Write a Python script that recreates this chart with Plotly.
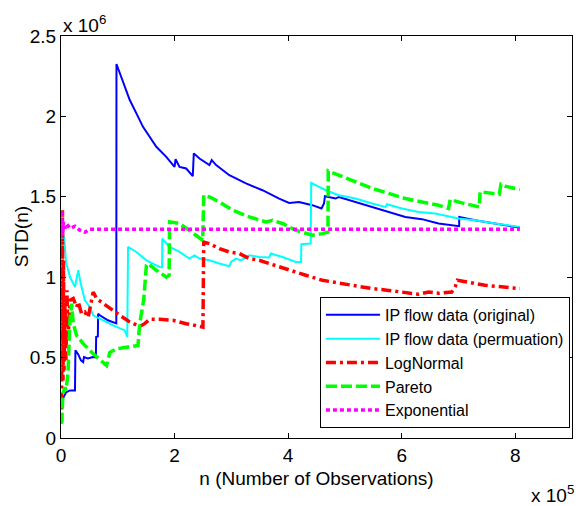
import plotly.graph_objects as go

# Running standard deviation STD(n) versus number of observations n.
# n in units of 1e5 observations, STD in units of 1e6.

orig_n = [0.0175, 0.088, 0.158, 0.246, 0.254, 0.304, 0.351, 0.391, 0.404, 0.474, 0.561, 0.614,
          0.619, 0.649, 0.654, 0.684, 0.825, 0.947, 0.974, 0.977, 1.035, 1.123, 1.211, 1.328,
          1.444, 1.561, 1.679, 1.854, 2.000, 2.018, 2.088, 2.205, 2.321, 2.339, 2.439, 2.614,
          2.654, 2.732, 2.965, 3.258, 3.549, 3.842, 4.018, 4.193, 4.426, 4.588, 4.632, 4.649,
          4.837, 4.895, 5.188, 5.479, 5.772, 6.065, 6.356, 6.649, 7.012, 7.014, 7.293, 7.644,
          8.082]
orig_std = [0.234, 0.283, 0.296, 0.296, 0.545, 0.520, 0.483, 0.472, 0.503, 0.495, 0.503, 0.501,
            0.628, 0.632, 0.773, 0.763, 0.732, 0.713, 0.713, 2.326, 2.268, 2.184, 2.102, 2.019,
            1.935, 1.873, 1.811, 1.748, 1.686, 1.734, 1.686, 1.676, 1.628, 1.770, 1.738, 1.697,
            1.728, 1.697, 1.634, 1.583, 1.541, 1.489, 1.462, 1.468, 1.448, 1.427, 1.458, 1.504,
            1.489, 1.499, 1.468, 1.437, 1.406, 1.375, 1.361, 1.334, 1.317, 1.375, 1.354, 1.334,
            1.308]

perm_n = [0.0175, 0.035, 0.061, 0.088, 0.111, 0.158, 0.246, 0.289, 0.304, 0.346, 0.421, 0.509,
          0.567, 0.742, 0.918, 1.123, 1.167, 1.181, 1.328, 1.504, 1.561, 1.737, 1.781, 1.784,
          1.912, 2.088, 2.263, 2.351, 2.439, 2.614, 2.789, 2.965, 2.995, 3.082, 3.170, 3.316,
          3.491, 3.667, 3.696, 3.900, 4.135, 4.228, 4.233, 4.398, 4.407, 4.544, 4.661, 4.895,
          5.188, 5.479, 5.714, 5.742, 6.005, 6.298, 6.591, 7.000, 7.293, 7.644, 8.082]
perm_std = [1.167, 1.280, 1.230, 1.093, 1.064, 1.001, 0.939, 1.037, 1.043, 0.962, 0.856, 0.814,
            0.763, 0.732, 0.700, 0.669, 0.628, 1.188, 1.157, 1.105, 1.095, 1.064, 1.062, 1.240,
            1.188, 1.157, 1.116, 1.136, 1.116, 1.105, 1.085, 1.068, 1.095, 1.116, 1.105, 1.136,
            1.126, 1.122, 1.147, 1.126, 1.095, 1.095, 1.205, 1.209, 1.587, 1.562, 1.541, 1.510,
            1.489, 1.458, 1.437, 1.454, 1.427, 1.406, 1.396, 1.365, 1.354, 1.334, 1.313]

lognormal_n = [0.009, 0.014, 0.021, 0.026, 0.035, 0.044, 0.053, 0.070, 0.088, 0.105, 0.123,
               0.158, 0.216, 0.275, 0.304, 0.363, 0.421, 0.479, 0.539, 0.567, 0.626, 0.742,
               0.860, 1.035, 1.211, 1.386, 1.474, 1.561, 1.737, 1.970, 2.205, 2.439, 2.500,
               2.514, 2.614, 2.789, 2.965, 3.140, 3.316, 3.491, 3.667, 3.900, 4.018, 4.193,
               4.311, 4.602, 4.895, 5.188, 5.479, 5.772, 6.065, 6.298, 6.474, 6.649, 6.882,
               6.942, 6.982, 7.175, 7.468, 7.760, 8.082]
lognormal_std = [0.090, 1.385, 0.234, 1.417, 0.358, 1.105, 0.420, 0.856, 0.483, 0.918, 0.607,
                 0.856, 0.867, 0.814, 0.846, 0.773, 0.783, 0.752, 0.856, 0.908, 0.867, 0.836,
                 0.804, 0.763, 0.721, 0.694, 0.711, 0.738, 0.738, 0.732, 0.711, 0.697, 0.690,
                 1.219, 1.209, 1.178, 1.157, 1.147, 1.116, 1.105, 1.085, 1.054, 1.043, 1.022,
                 1.012, 0.981, 0.964, 0.950, 0.929, 0.918, 0.902, 0.894, 0.908, 0.900, 0.908,
                 0.939, 0.981, 0.970, 0.950, 0.940, 0.929]

pareto_n = [0.009, 0.012, 0.035, 0.070, 0.088, 0.123, 0.140, 0.158, 0.188, 0.216, 0.275, 0.391,
            0.567, 0.742, 0.802, 0.860, 0.977, 1.153, 1.356, 1.386, 1.456, 1.504, 1.532, 1.679,
            1.854, 1.904, 1.912, 2.088, 2.263, 2.439, 2.496, 2.514, 2.614, 2.789, 3.023, 3.316,
            3.609, 3.725, 3.900, 4.135, 4.426, 4.602, 4.702, 4.707, 4.895, 5.188, 5.479, 5.772,
            6.065, 6.356, 6.649, 6.825, 6.854, 7.058, 7.368, 7.381, 7.584, 7.719, 7.749, 7.819,
            8.082]
pareto_std = [0.090, 0.130, 0.277, 0.316, 0.296, 0.402, 0.545, 0.732, 0.836, 0.711, 0.638,
              0.587, 0.524, 0.472, 0.451, 0.532, 0.555, 0.564, 0.576, 0.711, 0.856, 1.074,
              1.085, 1.043, 1.001, 1.012, 1.344, 1.334, 1.292, 1.250, 1.230, 1.510, 1.499,
              1.468, 1.417, 1.375, 1.344, 1.354, 1.334, 1.292, 1.261, 1.271, 1.280, 1.661,
              1.634, 1.593, 1.552, 1.521, 1.489, 1.468, 1.448, 1.427, 1.483, 1.462, 1.437,
              1.531, 1.521, 1.516, 1.578, 1.566, 1.545]

expon_n = [0.009, 0.0175, 0.026, 0.044, 0.070, 0.105, 0.158, 0.246, 0.333, 0.421, 0.509,
           1.0, 2.0, 3.0, 4.0, 5.0, 6.0, 7.0, 8.082]
expon_std = [1.255, 1.417, 1.255, 1.342, 1.304, 1.329, 1.304, 1.317, 1.292, 1.280, 1.298,
             1.298, 1.298, 1.298, 1.298, 1.298, 1.298, 1.298, 1.298]

x_ticks = [0, 2, 4, 6, 8]
y_ticks = [0, 0.5, 1, 1.5, 2, 2.5]
y_tick_text = ["0", "0.5", "1", "1.5", "2", "2.5"]

series = [
    ("IP flow data (original)", orig_n, orig_std, "#0000FF", 2, "solid"),
    ("IP flow data (permuation)", perm_n, perm_std, "#00FFFF", 2, "solid"),
    ("LogNormal", lognormal_n, lognormal_std, "#FF0000", 3.5, "10px,4px,3px,4px"),
    ("Pareto", pareto_n, pareto_std, "#00FF00", 3.5, "11px,4px"),
    ("Exponential", expon_n, expon_std, "#FF00FF", 3.5, "4px,3px"),
]

FONT = "Liberation Sans, Arial, sans-serif"
FS = 19
LEG_FS = 16

fig = go.Figure()
for name, xs, ys, color, width, dash in series:
    fig.add_trace(go.Scatter(
        x=xs, y=ys, mode="lines", name=name,
        line=dict(color=color, width=width, dash=dash),
    ))

axis_common = dict(
    showline=True, linecolor="black", linewidth=1, mirror="ticks",
    ticks="inside", ticklen=5, tickcolor="black", tickwidth=1,
    showgrid=False, zeroline=False,
    tickfont=dict(family=FONT, size=FS, color="black"),
)

fig.update_layout(
    width=576, height=506,
    margin=dict(l=61, r=4, t=36, b=68),
    paper_bgcolor="white", plot_bgcolor="white",
    font=dict(family=FONT, size=FS, color="black"),
    showlegend=True,
    legend=dict(
        x=0.996, y=0.025, xanchor="right", yanchor="bottom",
        bgcolor="white", bordercolor="black", borderwidth=1,
        font=dict(family=FONT, size=LEG_FS, color="black"),
        tracegroupgap=0, itemwidth=54,
    ),
    xaxis=dict(
        range=[0, 9], tickvals=x_ticks, ticktext=[str(v) for v in x_ticks],
        title=dict(text="n (Number of Observations)", standoff=6,
                   font=dict(family=FONT, size=FS, color="black")),
        **axis_common,
    ),
    yaxis=dict(
        range=[0, 2.5], tickvals=y_ticks, ticktext=y_tick_text,
        **axis_common,
    ),
    annotations=[
        dict(text="STD(n)", xref="paper", yref="paper", x=-0.078, y=0.5,
             xanchor="center", yanchor="middle", textangle=-90, showarrow=False,
             font=dict(family=FONT, size=FS, color="black")),
        dict(text="x 10<sup>6</sup>", xref="paper", yref="paper", x=0.0, y=0.995,
             xanchor="left", yanchor="bottom", showarrow=False,
             font=dict(family=FONT, size=FS, color="black")),
        dict(text="x 10<sup>5</sup>", xref="paper", yref="paper", x=1.008, y=-0.14,
             xanchor="right", yanchor="middle", showarrow=False,
             font=dict(family=FONT, size=FS, color="black")),
    ],
)

fig.write_html("out.html")
